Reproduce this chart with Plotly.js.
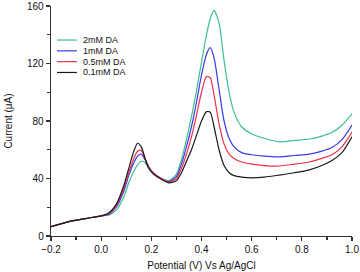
<!DOCTYPE html>
<html><head><meta charset="utf-8">
<script src="https://cdn.plot.ly/plotly-3.0.1.min.js"></script>
<style>html,body{margin:0;padding:0;background:#fff}#c{width:360px;height:272px}</style>
</head><body><div id="c"></div>
<script>
var potential = [-0.2,-0.15,-0.1,-0.05,0,0.03,0.06,0.09,0.11,0.13,0.145,0.16,0.175,0.19,0.21,0.24,0.27,0.3,0.32,0.34,0.36,0.38,0.40,0.42,0.435,0.45,0.47,0.49,0.51,0.53,0.56,0.6,0.65,0.71,0.77,0.83,0.88,0.92,0.96,1.0];
var da01 = [6.5,9,11,12.5,14,16,22,35,47,59,64.5,62,54,47,43,39.5,37,38.5,44,52,60,70,80,86.5,86,76,60,49,44,42,41,40.5,41,42.4,44,46,49,52.5,58,69];
var da05 = [6.5,9,11,12.5,14,15.5,21,33,44,54,59,59.5,54,48,43.5,40,37.5,40,47,57,69,84,100,111,110,98,78,64,57,54,51.5,50,49,48.7,50,51.5,54,56.5,62,72.3];
var da1  = [6.5,9,11,12.5,14,15,20,31,42,51,55.5,57,53,48,43.5,40,38,41.5,50,62,76,93,112,126.5,131,124,102,80,68,62,58,56.5,55.5,55,56,57,59,61.5,67,77.2];
var da2  = [6.5,9,11,12.5,14,14.5,18,27,37,45,49.5,52,51,47,43,40,38.5,43,53,67,83,101,121,140,151.5,157,148,122,100,86,76,71,68,65.5,66.5,67.5,69.5,72,77,85];
var names = ['2mM DA','1mM DA','0.5mM DA','0.1mM DA'];
var colors = ['#3dbf90','#3a3ae8','#ee3048','#1a1a1a'];
var series = [da2, da1, da05, da01];
var font = 'Arial, Liberation Sans, sans-serif';
var traces = series.map(function(s,i){
  return {x: potential, y: s, name: names[i], type:'scatter', mode:'lines', showlegend:false,
    line:{color:colors[i], width:1.2, shape:'spline', smoothing:0.7}};
});
// legend drawn as paper-positioned samples
var legY0 = 0.852, legStep = 0.047;
var shapes = names.map(function(n,i){
  return {type:'line', xref:'paper', yref:'paper', x0:0.02, x1:0.086,
    y0:legY0-i*legStep, y1:legY0-i*legStep, line:{color:colors[i], width:1.2}};
});
var annotations = names.map(function(n,i){
  return {xref:'paper', yref:'paper', x:0.1, y:legY0-i*legStep, xanchor:'left', yanchor:'middle',
    text:n, showarrow:false, font:{family:font, size:9, color:'#111'}};
});
var axisCommon = {showgrid:false, zeroline:false, showline:true, linecolor:'#333', linewidth:1.3,
  ticks:'outside', ticklen:4, tickwidth:1.2, tickcolor:'#333',
  tickfont:{family:font, size:10, color:'#111'}};
var layout = {
  width:360, height:272,
  margin:{l:51, r:8, t:6, b:36},
  paper_bgcolor:'#fff', plot_bgcolor:'#fff',
  showlegend:false,
  shapes:shapes, annotations:annotations,
  xaxis:Object.assign({}, axisCommon, {range:[-0.2,1.0], dtick:0.2, tickformat:'.1f',
    minor:{dtick:0.1, ticks:'outside', ticklen:2.5, tickcolor:'#333'},
    title:{text:'Potential (V) Vs Ag/AgCl', standoff:7, font:{family:font, size:10, color:'#111'}}}),
  yaxis:Object.assign({}, axisCommon, {range:[0,160], dtick:40,
    minor:{dtick:20, ticks:'outside', ticklen:2.5, tickcolor:'#333'},
    title:{text:'Current (μA)', standoff:12, font:{family:font, size:10, color:'#111'}}})
};
Plotly.newPlot('c', traces, layout, {staticPlot:true, displayModeBar:false});
</script></body></html>
